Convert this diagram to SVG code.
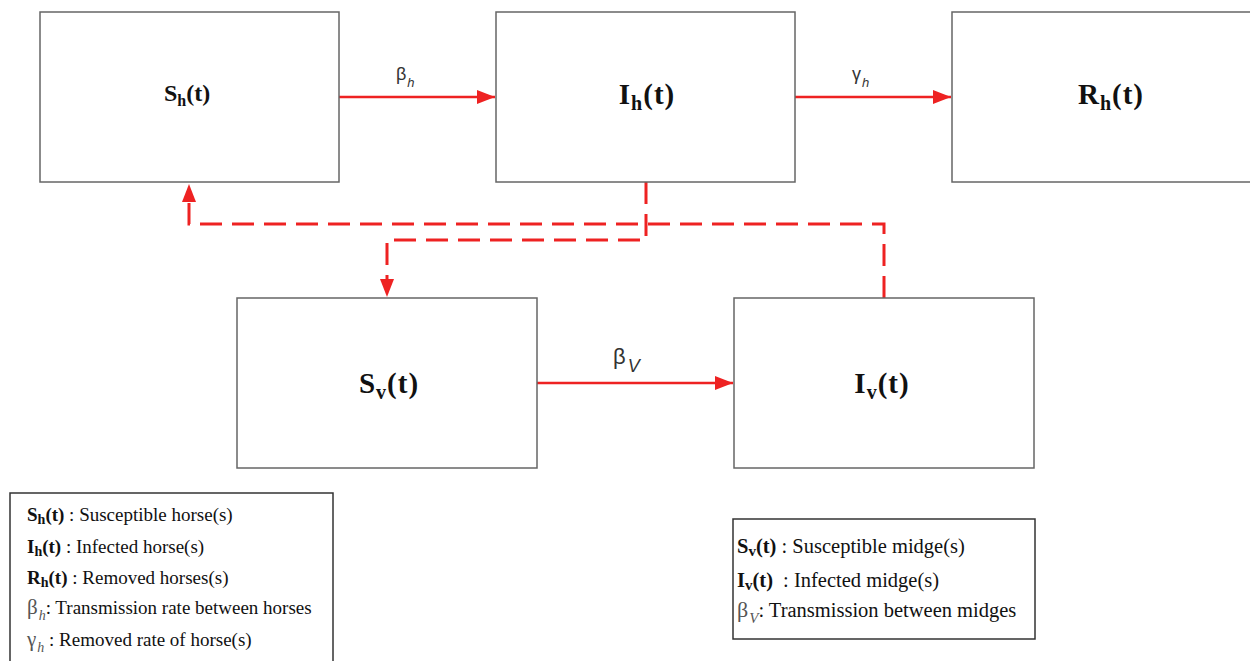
<svg xmlns="http://www.w3.org/2000/svg" width="1250" height="661" viewBox="0 0 1250 661">
<style>
.box{fill:#fff;stroke:#666;stroke-width:1.5}
.leg{fill:#fff;stroke:#333;stroke-width:1.5}
.lbl{font-family:"Liberation Serif",serif;font-weight:bold;fill:#111;text-anchor:middle}
.solid{stroke:#ee2222;stroke-width:2.5;fill:none}
.dash{stroke:#ee2222;stroke-width:3;fill:none;stroke-dasharray:22 10}
.rate{font-family:"Liberation Sans",sans-serif;fill:#333}
.lt{font-family:"Liberation Serif",serif;font-size:19px;fill:#111}
.lt2{font-family:"Liberation Serif",serif;font-size:20.5px;fill:#111}
.b{font-weight:bold}
.g{fill:#555}
.i{font-style:italic}
</style>
<defs>
<marker id="ah" markerUnits="userSpaceOnUse" markerWidth="20" markerHeight="16" refX="18" refY="7" orient="auto">
<path d="M0,0 L18,7 L0,14 z" fill="#ee2222"/>
</marker>
</defs>

<g id="connectors">
<line class="solid" x1="339" y1="97" x2="495" y2="97" marker-end="url(#ah)"/>
<line class="solid" x1="795" y1="97" x2="951" y2="97" marker-end="url(#ah)"/>
<line class="solid" x1="537" y1="383" x2="733" y2="383" marker-end="url(#ah)"/>
<path class="dash" d="M884,298 V224 H189 V200"/>
<path d="M189,200 V184" stroke="none" fill="none" marker-end="url(#ah)"/>
<path class="dash" d="M646,182 V240 H387 V282"/>
<path d="M387,282 V297" stroke="none" fill="none" marker-end="url(#ah)"/>
<text class="rate" x="396" y="80" font-size="18">β<tspan font-size="13" class="i" dx="1" dy="7">h</tspan></text>
<text class="rate" x="852" y="80" font-size="18">γ<tspan font-size="13" class="i" dx="1" dy="7">h</tspan></text>
<text class="rate" x="613" y="364" font-size="22">β<tspan font-size="18" class="i" dx="2" dy="8">V</tspan></text>
</g>

<g id="Sh">
<rect class="box" x="40" y="12" width="299" height="170"/>
<text class="lbl" x="187" y="101" font-size="24">S<tspan font-size="16" dy="5">h</tspan><tspan dy="-5">(t)</tspan></text>
</g>
<g id="Ih">
<rect class="box" x="496" y="12" width="299" height="170"/>
<text class="lbl" x="647" y="104" font-size="29" letter-spacing="1">I<tspan font-size="20" dy="6">h</tspan><tspan dy="-6">(t)</tspan></text>
</g>
<g id="Rh">
<rect class="box" x="952" y="12" width="310" height="170"/>
<text class="lbl" x="1111" y="104" font-size="29" letter-spacing="1">R<tspan font-size="20" dy="6">h</tspan><tspan dy="-6">(t)</tspan></text>
</g>
<g id="Sv">
<rect class="box" x="237" y="298" width="300" height="170"/>
<text class="lbl" x="389" y="393" font-size="29" letter-spacing="1">S<tspan font-size="20" dy="6">v</tspan><tspan dy="-6">(t)</tspan></text>
</g>
<g id="Iv">
<rect class="box" x="734" y="298" width="300" height="170"/>
<text class="lbl" x="882" y="393" font-size="29" letter-spacing="1">I<tspan font-size="20" dy="6">v</tspan><tspan dy="-6">(t)</tspan></text>
</g>

<g id="legend-horse">
<rect class="leg" x="10" y="493" width="323" height="180"/>
<text class="lt" x="27" y="521"><tspan class="b">S<tspan font-size="14" dy="3">h</tspan><tspan dy="-3">(t)</tspan></tspan> : Susceptible horse(s)</text>
<text class="lt" x="27" y="553"><tspan class="b">I<tspan font-size="14" dy="3">h</tspan><tspan dy="-3">(t)</tspan></tspan> : Infected horse(s)</text>
<text class="lt" x="27" y="584"><tspan class="b">R<tspan font-size="14" dy="3">h</tspan><tspan dy="-3">(t)</tspan></tspan> : Removed horses(s)</text>
<text class="lt" x="27" y="614"><tspan class="g" font-size="21">β<tspan class="i" font-size="14" dx="1" dy="6">h</tspan></tspan><tspan dy="-6">: Transmission rate between horses</tspan></text>
<text class="lt" x="27" y="646"><tspan class="g" font-size="21">γ<tspan class="i" font-size="14" dx="1" dy="6">h</tspan></tspan><tspan dy="-6"> : Removed rate of horse(s)</tspan></text>
</g>

<g id="legend-midge">
<rect class="leg" x="733" y="519" width="302" height="120"/>
<text class="lt2" x="737" y="553"><tspan class="b">S<tspan font-size="15" dy="3">v</tspan><tspan dy="-3">(t)</tspan></tspan> : Susceptible midge(s)</text>
<text class="lt2" x="737" y="587"><tspan class="b">I<tspan font-size="15" dy="3">v</tspan><tspan dy="-3">(t)</tspan></tspan><tspan dx="5"> : Infected midge(s)</tspan></text>
<text class="lt2" x="737" y="617"><tspan class="g" font-size="22">β<tspan class="i" font-size="15" dx="1" dy="6">V</tspan></tspan><tspan dy="-6">: Transmission between midges</tspan></text>
</g>
</svg>
